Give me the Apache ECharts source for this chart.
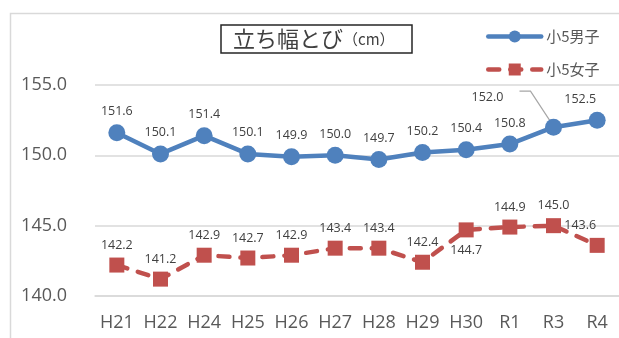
<!DOCTYPE html>
<html>
<head>
<meta charset="utf-8">
<script src="https://cdn.jsdelivr.net/npm/echarts@6/dist/echarts.min.js"></script>
<style>
  html, body { margin: 0; padding: 0; background: #fff; }
  #chart { width: 619px; height: 338px; }
</style>
</head>
<body>
<div id="chart"></div>
<script>
// School years
const categories = ['H21', 'H22', 'H24', 'H25', 'H26', 'H27', 'H28', 'H29', 'H30', 'R1', 'R3', 'R4'];
// Standing long jump, 5th grade (cm)
const boys = [151.6, 150.1, 151.4, 150.1, 149.9, 150.0, 149.7, 150.2, 150.4, 150.8, 152.0, 152.5];
const girls = [142.2, 141.2, 142.9, 142.7, 142.9, 143.4, 143.4, 142.4, 144.7, 144.9, 145.0, 143.6];
const seriesNames = ['小5男子', '小5女子'];
const yTicks = { min: 140, max: 155, step: 5 };

const NUM_FONT = '"Open Sans", "Liberation Sans", sans-serif';
const JP_FONT = '"Noto Sans CJK JP", sans-serif';
const BLUE = '#4F81BD';
const RED = '#C0504D';
const DASH = [11, 11];

const chart = echarts.init(document.getElementById('chart'), null, { renderer: 'canvas' });

const labelBase = {
  show: true,
  position: 'top',
  distance: 6,
  color: '#404040',
  fontSize: 12.5,
  fontFamily: NUM_FONT,
  formatter: p => Number(p.value).toFixed(1)
};

function boysData() {
  return boys.map((v, i) => {
    const item = { value: v };
    if (i === boys.length - 1) item.label = { offset: [-17, 0] };
    if (i === 10) item.label = { offset: [-66, -9] };
    return item;
  });
}
function girlsData() {
  return girls.map((v, i) => {
    const item = { value: v };
    if (i === 8) item.label = { position: 'bottom', distance: 7 };
    if (i === girls.length - 1) item.label = { offset: [-17, 0] };
    return item;
  });
}

chart.setOption({
  backgroundColor: '#ffffff',
  animation: false,
  title: {
    text: '{a|立ち幅とび}{b|（cm）}',
    left: 221,
    top: 22,
    borderColor: '#262626',
    borderWidth: 1.5,
    padding: [3, 18, 3, 12],
    textStyle: {
      fontWeight: 'normal',
      rich: {
        a: { fontFamily: JP_FONT, fontSize: 22, fontWeight: 'normal', color: '#404040', lineHeight: 28 },
        b: { fontFamily: JP_FONT, fontSize: 15, fontWeight: 'normal', color: '#404040', lineHeight: 28 }
      }
    }
  },
  legend: {
    orient: 'vertical',
    left: 481,
    top: 24,
    itemWidth: 53,
    itemHeight: 15,
    itemGap: 18,
    lineStyle: { width: 4.5, cap: 'round' },
    textStyle: { fontFamily: JP_FONT, fontSize: 15, color: '#595959' },
    data: seriesNames
  },
  grid: { left: 95, top: 85, width: 530, height: 211, containLabel: false },
  xAxis: {
    type: 'category',
    data: categories,
    boundaryGap: true,
    axisLine: { show: true, lineStyle: { color: '#d9d9d9', width: 1.5 } },
    axisTick: { show: false },
    axisLabel: { color: '#595959', fontSize: 18, fontFamily: NUM_FONT, margin: 18, interval: 0 }
  },
  yAxis: {
    type: 'value',
    min: yTicks.min,
    max: yTicks.max,
    interval: yTicks.step,
    axisLine: { show: false },
    axisTick: { show: false },
    axisLabel: { color: '#595959', fontSize: 18, fontFamily: NUM_FONT, margin: 28, formatter: v => v.toFixed(1) },
    splitLine: { lineStyle: { color: '#d9d9d9', width: 1.5 } }
  },
  series: [
    {
      name: seriesNames[0],
      type: 'line',
      data: boysData(),
      symbol: 'circle',
      symbolSize: 17,
      itemStyle: { color: BLUE },
      lineStyle: { color: BLUE, width: 4.5, cap: 'round', join: 'round' },
      label: labelBase,
      z: 3
    },
    {
      name: seriesNames[1],
      type: 'line',
      data: girlsData(),
      symbol: 'rect',
      symbolSize: 15,
      itemStyle: { color: RED },
      lineStyle: { color: RED, width: 4.5, type: DASH, cap: 'round', join: 'round' },
      label: labelBase,
      z: 2
    }
  ]
});

// Chart frame and the leader line for the moved R3 label
const p = chart.convertToPixel({ seriesIndex: 0 }, [10, boys[10]]);
chart.setOption({
  graphic: [
    {
      type: 'rect',
      left: 8, top: 11,
      shape: { width: 700, height: 400 },
      style: { fill: null, stroke: '#d9d9d9', lineWidth: 1.5 },
      silent: true,
      z: -1
    },
    {
      type: 'polyline',
      shape: { points: [[p[0] - 34, p[1] - 36], [p[0] - 23, p[1] - 36], [p[0] - 2, p[1] - 4]] },
      style: { stroke: '#a6a6a6', lineWidth: 1.2, fill: null },
      silent: true,
      z: 1
    }
  ]
});
</script>
</body>
</html>
